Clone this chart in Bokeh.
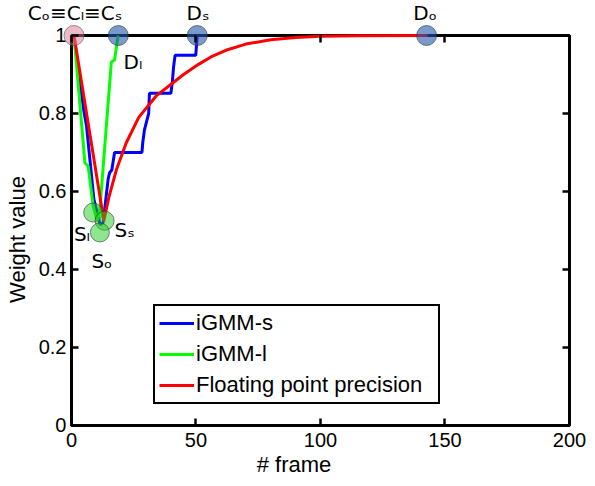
from bokeh.plotting import figure
from bokeh.models import (Range1d, LinearAxis, FixedTicker, PrintfTickFormatter,
                          BoxAnnotation, Label, Legend, LegendItem)
from bokeh.embed import file_html
from bokeh.resources import INLINE

# ---- data ----
frames_s = [1, 5, 6, 9, 11.5, 12.7, 14.7, 15.3, 16.2, 17.3, 28.3, 28.6, 29.3, 31, 31.3,
            39.9, 40.5, 41, 41.6, 49.9, 50.5]
weight_s = [1.0, 0.805, 0.77, 0.58, 0.515, 0.52, 0.631, 0.648, 0.655, 0.700, 0.700, 0.724,
            0.758, 0.80, 0.852, 0.852, 0.88, 0.92, 0.949, 0.949, 1.0]

frames_l = [1, 5.4, 6.7, 8.7, 10.3, 11.4, 16.0, 17.3, 18.7]
weight_l = [1.0, 0.673, 0.665, 0.563, 0.525, 0.555, 0.932, 0.937, 1.0]

frames_fp = [1, 13, 15, 18, 22, 27, 34, 40, 45, 50, 56, 62, 70, 80, 90, 100, 115, 143]
weight_fp = [1.0, 0.525, 0.585, 0.655, 0.725, 0.79, 0.845, 0.875, 0.90, 0.922, 0.945,
             0.962, 0.978, 0.989, 0.995, 0.998, 0.9995, 1.0]

c_x = [1]
c_y = [1.0]
d_x = [18.8, 50.5, 142.6]
d_y = [1.0, 1.0, 1.0]
s_x = [8.7, 13.3, 11.4]
s_y = [0.546, 0.525, 0.495]

x_ticks = [0, 50, 100, 150, 200]
y_ticks = [0, 0.2, 0.4, 0.6, 0.8, 1]

series_names = ["iGMM-s", "iGMM-l", "Floating point precision"]

# labels of the marked points
top_label_x = [1.4, 50.8, 142.0]
top_label_text = ["C\u2092\u2261C\u2097\u2261C\u209b", "D\u209b", "D\u2092"]
inner_labels = [
    ("D\u2097", 20.9, 0.931, "left"),
    ("S\u2097", 7.4, 0.491, "right"),
    ("S\u209b", 17.3, 0.502, "left"),
    ("S\u2092", 12.2, 0.423, "center"),
]

FONT = "Liberation Sans"
LFONT = "DejaVu Sans"

# the plotting frame covers the whole canvas; the axes are pinned to the data box
p = figure(width=587, height=478, output_backend="svg", toolbar_location=None,
           x_range=Range1d(-28.51, 207.23), y_range=Range1d(-0.1359, 1.0897),
           x_axis_type=None, y_axis_type=None,
           min_border_left=0, min_border_right=0, min_border_top=0, min_border_bottom=0)
p.outline_line_color = None
p.grid.visible = False
p.background_fill_color = "white"
p.border_fill_color = "white"

# frame box
p.add_layout(BoxAnnotation(left=0, right=200, bottom=0, top=1, fill_color=None,
                           line_color="black", line_alpha=1, line_width=3, level="underlay"))

def base_axis(ax):
    ax.axis_line_color = None
    ax.major_tick_in = 7
    ax.major_tick_out = 0
    ax.major_tick_line_width = 2.5
    ax.major_tick_line_color = "black"
    ax.minor_tick_in = 7
    ax.minor_tick_out = 0
    ax.minor_tick_line_width = 2.5
    ax.minor_tick_line_color = "black"
    ax.major_label_text_font = FONT
    ax.major_label_text_font_size = "20px"
    ax.major_label_text_color = "black"
    ax.major_label_standoff = 5
    ax.axis_label_text_font = FONT
    ax.axis_label_text_font_size = "22px"
    ax.axis_label_text_font_style = "normal"
    ax.axis_label_text_color = "black"

xax = LinearAxis(fixed_location=0, ticker=FixedTicker(ticks=x_ticks),
                 formatter=PrintfTickFormatter(format="%g"), axis_label="# frame")
base_axis(xax)
xax.major_label_standoff = 8
xax.axis_label_standoff = 1
p.add_layout(xax, "below")

yax = LinearAxis(fixed_location=0, ticker=FixedTicker(ticks=y_ticks),
                 formatter=PrintfTickFormatter(format="%g"), axis_label="Weight value")
base_axis(yax)
yax.axis_label_standoff = 6
p.add_layout(yax, "left")

right_ax = LinearAxis(fixed_location=200, ticker=FixedTicker(ticks=[], minor_ticks=y_ticks))
base_axis(right_ax)
p.add_layout(right_ax, "right")

top_ax = LinearAxis(fixed_location=1,
                    ticker=FixedTicker(ticks=top_label_x, minor_ticks=x_ticks),
                    major_label_overrides=dict(zip(top_label_x, top_label_text)))
base_axis(top_ax)
top_ax.major_tick_line_color = None
top_ax.major_tick_in = 0
top_ax.major_label_text_font = LFONT
top_ax.major_label_standoff = 10
p.add_layout(top_ax, "above")

r_s = p.line(frames_s, weight_s, line_color="#0000ff", line_width=3)
r_l = p.line(frames_l, weight_l, line_color="#00ff00", line_width=3)
r_fp = p.line(frames_fp, weight_fp, line_color="#ff0000", line_width=3)

p.scatter(c_x, c_y, size=20, fill_color="#d9778f", fill_alpha=0.5,
          line_color="#555555", line_alpha=0.6, line_width=1)
p.scatter(d_x, d_y, size=20, fill_color="#2255aa", fill_alpha=0.6,
          line_color="#333333", line_alpha=0.6, line_width=1)
p.scatter(s_x, s_y, size=19, fill_color="#22cc22", fill_alpha=0.5,
          line_color="#333333", line_alpha=0.6, line_width=1)

for txt, lx, ly, al in inner_labels:
    p.add_layout(Label(x=lx, y=ly, text=txt, text_align=al, text_baseline="alphabetic",
                       text_font=LFONT, text_font_size="20px", text_color="black"))

legend = Legend(items=[LegendItem(label=series_names[0], renderers=[r_s]),
                       LegendItem(label=series_names[1], renderers=[r_l]),
                       LegendItem(label=series_names[2], renderers=[r_fp])],
                location=(153, 74), margin=0, padding=4, spacing=5,
                glyph_width=35, glyph_height=24, label_height=24, label_width=238,
                label_standoff=2,
                border_line_color="black", border_line_alpha=1, border_line_width=2.5,
                background_fill_color="white", background_fill_alpha=1,
                label_text_font=FONT, label_text_font_size="22px", label_text_color="black")
p.add_layout(legend, "center")

open("out.html", "w").write(file_html(p, INLINE))
